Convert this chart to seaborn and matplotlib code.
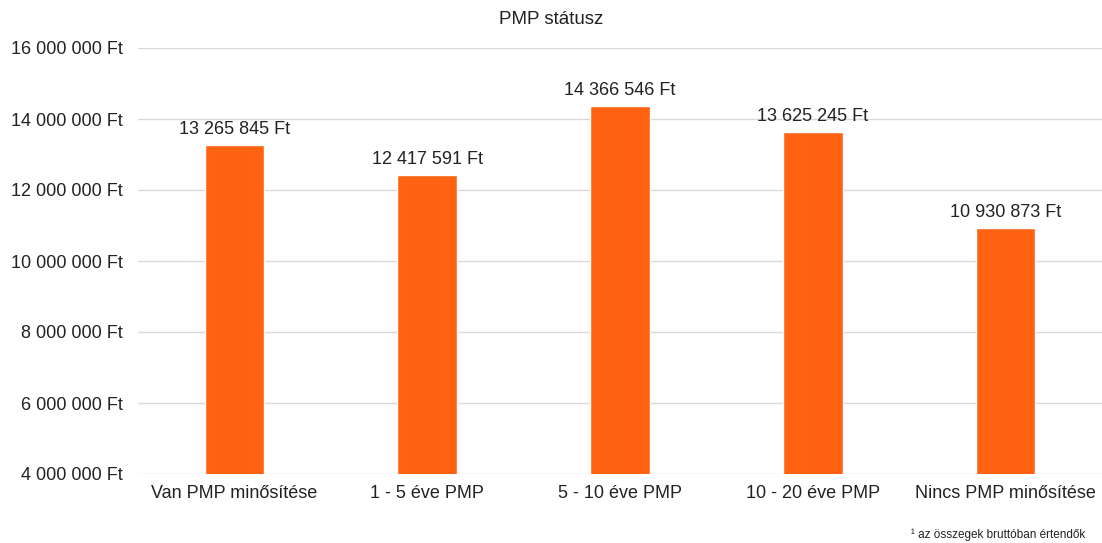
import matplotlib
matplotlib.use("Agg")
import matplotlib.pyplot as plt
import matplotlib.ticker as mticker
import seaborn as sns
import pandas as pd

categories = ["Van PMP minősítése", "1 - 5 éve PMP", "5 - 10 éve PMP",
              "10 - 20 éve PMP", "Nincs PMP minősítése"]
values = [13265845, 12417591, 14366546, 13625245, 10930873]


def ft(v):
    return f"{int(v):,}".replace(",", " ") + " Ft"


df = pd.DataFrame({"cat": categories, "val": values})

sns.set_style("white")
plt.rcParams['font.family'] = ['Liberation Sans', 'DejaVu Sans']

fig = plt.figure(figsize=(11.02, 5.43), dpi=100)
ax = fig.add_axes([138 / 1102, 1 - 474 / 543, 1 - 138 / 1102, (474 - 48) / 543])

sns.barplot(data=df, x="cat", y="val", color="#FF6211", saturation=1,
            width=0.31, ax=ax, zorder=3)

ax.set_ylim(4000000, 16000000)
ax.yaxis.set_major_locator(mticker.MultipleLocator(2000000))
ax.yaxis.set_major_formatter(mticker.FuncFormatter(lambda v, p: ft(v)))
ax.grid(axis="y", color="#d9d9d9", linewidth=1, zorder=0)
for s in ax.spines.values():
    s.set_visible(False)
ax.tick_params(axis="both", length=0, labelsize=13, colors="#222222")
ax.tick_params(axis="y", pad=11)
ax.tick_params(axis="x", pad=8)
ax.set_xlabel("")
ax.set_ylabel("")

for i, v in enumerate(values):
    ax.annotate(ft(v), (i, v), xytext=(0, 5), textcoords="offset points",
                ha="center", va="bottom", fontsize=13, color="#222222")

fig.text(0.5, 1 - 19 / 543, "PMP státusz", ha="center", va="center",
         fontsize=13.5, color="#222222")
fig.text(1 - 17 / 1102, 1 - 535 / 543, "¹ az összegek bruttóban értendők",
         ha="right", va="center", fontsize=8.5, color="#222222")

fig.savefig("out.png", dpi=100)
